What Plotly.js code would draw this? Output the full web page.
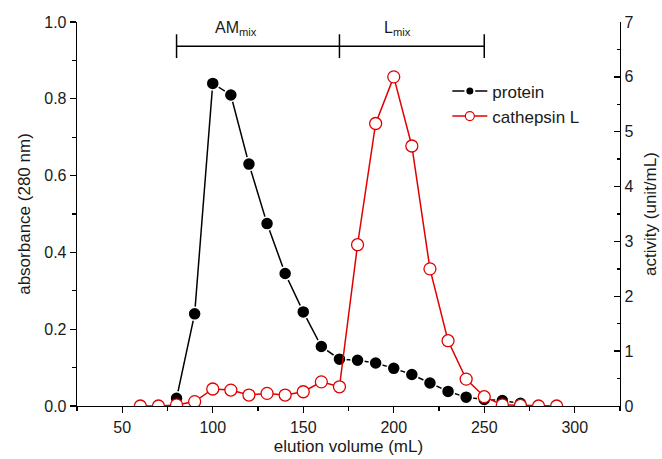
<!DOCTYPE html>
<html><head><meta charset="utf-8">
<script src="https://cdn.plot.ly/plotly-3.0.1.min.js"></script>
<style>html,body{margin:0;padding:0;background:#fff}#chart{width:662px;height:459px}</style>
</head><body><div id="chart"></div>
<script>
// ---- data ----
const proteinVolume     = [80, 90, 100, 110, 120, 130, 140, 150, 160, 170, 180, 190, 200, 210, 220, 230, 240, 250, 260, 270];
const proteinAbsorbance = [0.02, 0.24, 0.84, 0.81, 0.63, 0.475, 0.345, 0.245, 0.155, 0.122, 0.119, 0.112, 0.098, 0.082, 0.06, 0.038, 0.023, 0.017, 0.014, 0.007];

const cathepsinVolume   = [60, 70, 80, 90, 100, 110, 120, 130, 140, 150, 160, 170, 180, 190, 200, 210, 220, 230, 240, 250, 260, 270, 280, 290];
const cathepsinActivity = [0, 0, 0.02, 0.08, 0.31, 0.29, 0.2, 0.23, 0.2, 0.26, 0.44, 0.35, 2.94, 5.15, 6.0, 4.74, 2.5, 1.19, 0.49, 0.17, 0.02, 0.01, 0, 0];

const fractionEdges       = [80, 170, 250];
const fractionLabels      = ['AM<sub>mix</sub>', 'L<sub>mix</sub>'];
const fractionLabelVolume = [113, 202];

const seriesNames = ['protein', 'cathepsin L'];

const xTickVals  = [50, 100, 150, 200, 250, 300];
const y1TickVals = [0, 0.2, 0.4, 0.6, 0.8, 1.0];
const y2TickVals = [0, 1, 2, 3, 4, 5, 6, 7];

// ---- styles ----
const FONT = 'Liberation Sans, Arial, sans-serif';
const INK = '#1a1a1a';
const RED = '#e00000';
const bracketLevel = 0.937;

const traces = [
  {
    x: proteinVolume, y: proteinAbsorbance, name: seriesNames[0], yaxis: 'y', showlegend: false,
    mode: 'lines+markers', type: 'scatter',
    line: {color: '#000', width: 1.5},
    marker: {color: '#000', size: 13, line: {color: '#fff', width: 1.5}}
  },
  {
    x: fractionEdges, y: fractionEdges.map(() => bracketLevel), yaxis: 'y',
    mode: 'lines+markers', type: 'scatter', showlegend: false, cliponaxis: false,
    line: {color: '#000', width: 1.5},
    marker: {symbol: 'line-ns', size: 17, line: {color: '#000', width: 1.5}},
    hoverinfo: 'skip'
  },
  {
    x: cathepsinVolume, y: cathepsinActivity, name: seriesNames[1], yaxis: 'y2', showlegend: false,
    mode: 'lines+markers', type: 'scatter',
    line: {color: RED, width: 1.5},
    marker: {color: '#fff', size: 12, line: {color: RED, width: 1.3}}
  },
  // legend entries (small symbols, as in the reference legend)
  {
    x: [null], y: [null], name: seriesNames[0], yaxis: 'y',
    mode: 'lines+markers', type: 'scatter',
    line: {color: '#000', width: 1.5},
    marker: {color: '#000', size: 9, line: {color: '#fff', width: 2}}
  },
  {
    x: [null], y: [null], name: seriesNames[1], yaxis: 'y2',
    mode: 'lines+markers', type: 'scatter',
    line: {color: RED, width: 1.5},
    marker: {color: '#fff', size: 9, line: {color: RED, width: 1.2}}
  }
];

const annotations = fractionLabels.map((t, i) => ({
  text: t, x: fractionLabelVolume[i], xref: 'x', y: 0.982, yref: 'paper',
  yanchor: 'middle', xanchor: 'center', showarrow: false,
  font: {family: FONT, size: 16, color: INK}
}));

const axisCommon = {
  showgrid: false, zeroline: false, showline: true, linecolor: '#000', linewidth: 1.3,
  ticks: 'outside', ticklen: 6, tickwidth: 1.3, tickcolor: '#000',
  tickfont: {family: FONT, size: 16, color: INK}
};

const layout = {
  width: 662, height: 459,
  margin: {l: 77, r: 42, t: 22, b: 53},
  paper_bgcolor: '#fff', plot_bgcolor: '#fff',
  font: {family: FONT, color: INK},
  showlegend: true,
  legend: {
    x: 0.682, y: 0.866, xanchor: 'left', yanchor: 'top',
    bgcolor: 'rgba(0,0,0,0)', borderwidth: 0,
    font: {family: FONT, size: 17, color: INK},
    itemwidth: 35
  },
  xaxis: Object.assign({}, axisCommon, {
    range: [25, 325], tickvals: xTickVals,
    minor: {dtick: 25, tick0: 0, ticks: 'outside', ticklen: 3.5, tickwidth: 1.3, tickcolor: '#000'},
    title: {text: 'elution volume (mL)', font: {family: FONT, size: 17, color: INK}, standoff: 5}
  }),
  yaxis: Object.assign({}, axisCommon, {
    range: [0, 1], tickvals: y1TickVals, tickformat: '.1f',
    minor: {dtick: 0.1, tick0: 0, ticks: 'outside', ticklen: 3.5, tickwidth: 1.3, tickcolor: '#000'},
    title: {text: 'absorbance (280 nm)', font: {family: FONT, size: 17, color: INK}, standoff: 9}
  }),
  yaxis2: Object.assign({}, axisCommon, {
    overlaying: 'y', side: 'right', anchor: 'x',
    range: [0, 7], tickvals: y2TickVals, ticks: 'inside',
    minor: {dtick: 0.5, tick0: 0, ticks: 'inside', ticklen: 3.5, tickwidth: 1.3, tickcolor: '#000'},
    title: {text: 'activity (unit/mL)', font: {family: FONT, size: 17, color: INK}, standoff: 11}
  }),
  annotations: annotations
};

Plotly.newPlot('chart', traces, layout, {staticPlot: true, displayModeBar: false});
</script>
</body></html>
